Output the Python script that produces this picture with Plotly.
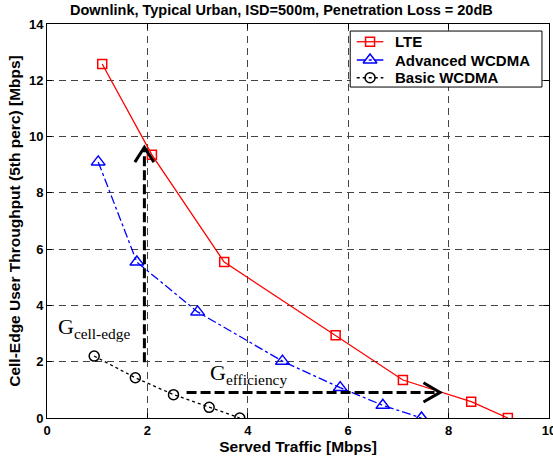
import plotly.graph_objects as go

lte_x = [1.10, 2.09, 3.53, 5.75, 7.09, 8.45, 9.18]
lte_y = [12.58, 9.35, 5.54, 2.94, 1.35, 0.58, 0.0]
adv_x = [1.02, 1.79, 3.00, 4.69, 5.84, 6.69, 7.46]
adv_y = [9.10, 5.54, 3.77, 2.02, 1.08, 0.45, 0.0]
bas_x = [0.94, 1.76, 2.52, 3.23, 3.84]
bas_y = [2.20, 1.43, 0.83, 0.38, 0.0]

series_names = ["LTE", "Advanced WCDMA", "Basic WCDMA"]
x_ticks = [0, 2, 4, 6, 8, 10]
y_ticks = [0, 2, 4, 6, 8, 10, 12, 14]

# gain arrows (annotation geometry)
v_arrow = dict(x=1.94, y0=1.98, y1=9.62)
h_arrow = dict(y=0.91, x0=2.78, x1=7.83)

# legend box geometry (axis units)
leg_box = dict(x0=6.04, x1=9.86, y0=11.76, y1=13.75)
leg_rows = [13.37, 12.72, 12.09]
leg_line = (6.17, 6.70)
leg_text_x = 6.90

sans = "Liberation Sans, Arial, Helvetica"
f_tick = dict(family=sans, size=13, color="black")
f_title = dict(family=sans, size=14.5, color="black")
f_lab = dict(family=sans, size=15.5, color="black")
f_leg = dict(family=sans, size=15, color="black")

styles = [
    dict(line=dict(color="#ff0000", width=1.3),
         marker=dict(symbol="square-open", size=9, color="#ff0000", line=dict(width=1.5))),
    dict(line=dict(color="#0000ff", width=1.3, dash="dashdot"),
         marker=dict(symbol="triangle-up-open", size=12, color="#0000ff", line=dict(width=1.5))),
    dict(line=dict(color="black", width=1.3, dash="dot"),
         marker=dict(symbol="circle-open", size=10, color="black", line=dict(width=1.5))),
]

fig = go.Figure()
for name, xs, ys, st in zip(series_names, [lte_x, adv_x, bas_x], [lte_y, adv_y, bas_y], styles):
    fig.add_trace(go.Scatter(x=xs, y=ys, name=name, mode="lines+markers", showlegend=False,
                             line=st["line"], marker=st["marker"]))

# custom legend (MATLAB style)
fig.add_shape(type="rect", xref="x", yref="y", layer="between", **leg_box,
              line=dict(color="black", width=1), fillcolor="white")
for name, ry, st in zip(series_names, leg_rows, styles):
    fig.add_trace(go.Scatter(x=[leg_line[0], leg_line[1]], y=[ry, ry], mode="lines",
                             line=st["line"], showlegend=False, hoverinfo="skip"))
    fig.add_trace(go.Scatter(x=[(leg_line[0] + leg_line[1]) / 2], y=[ry], mode="markers",
                             marker=st["marker"], showlegend=False, hoverinfo="skip"))
    fig.add_annotation(x=leg_text_x, y=ry, text=f"<b>{name}</b>", showarrow=False,
                       xanchor="left", yanchor="middle", font=f_leg)

dash_style = dict(color="black", width=3, dash="10px,4px")
fig.add_shape(type="line", x0=v_arrow["x"], x1=v_arrow["x"], y0=v_arrow["y0"], y1=v_arrow["y1"] - 0.05,
              line=dash_style, xref="x", yref="y")
fig.add_shape(type="line", x0=h_arrow["x0"], x1=h_arrow["x1"] - 0.05, y0=h_arrow["y"], y1=h_arrow["y"],
              line=dash_style, xref="x", yref="y")
vx, vy = v_arrow["x"], v_arrow["y1"]
fig.add_shape(type="path", path=f"M {vx-0.19},{vy-0.53} L {vx},{vy} L {vx+0.19},{vy-0.53}",
              line=dict(color="black", width=3), xref="x", yref="y")
hx, hy = h_arrow["x1"], h_arrow["y"]
fig.add_shape(type="path", path=f"M {hx-0.33},{hy+0.34} L {hx},{hy} L {hx-0.33},{hy-0.34}",
              line=dict(color="black", width=3), xref="x", yref="y")

serif = dict(family="Liberation Serif, Times New Roman", size=22, color="black")
fig.add_annotation(x=0.18, y=3.2, text="G<sub>cell-edge</sub>", showarrow=False,
                   xanchor="left", yanchor="middle", font=serif)
fig.add_annotation(x=3.21, y=1.55, text="G<sub>efficiency</sub>", showarrow=False,
                   xanchor="left", yanchor="middle", font=serif)

fig.add_annotation(x=(281 - 47) / 502, xref="paper", y=1.0, yref="paper",
                   text="<b>Downlink, Typical Urban, ISD=500m, Penetration Loss = 20dB</b>",
                   showarrow=False, font=f_title, yanchor="bottom", yshift=4)

axis_common = dict(showline=True, linecolor="black", linewidth=1, mirror="allticks",
                   ticks="inside", ticklen=5, tickcolor="black",
                   showgrid=True, gridcolor="#444444", gridwidth=1, griddash="7px,5px",
                   zeroline=False, tickfont=f_tick, automargin=False, ticklabeloverflow="allow")
fig.update_xaxes(range=[0, 10], tickvals=x_ticks, ticktext=[f"<b>{v}</b>" for v in x_ticks],
                 title=dict(text="<b>Served Traffic [Mbps]</b>", font=f_lab, standoff=2),
                 **axis_common)
fig.update_yaxes(range=[0, 14], tickvals=y_ticks, ticktext=[f"<b>{v}</b>" for v in y_ticks],
                 title=dict(text="<b>Cell-Edge User Throughput (5th perc) [Mbps]</b>", font=f_lab, standoff=4),
                 **axis_common)

fig.update_layout(width=553, height=461, margin=dict(l=47, r=4, t=24, b=43),
                  plot_bgcolor="white", paper_bgcolor="white", showlegend=False)
# remove the default 8px page margin so the figure fills the window exactly
fig.write_html("out.html", config={"displayModeBar": False},
               post_script="document.body.style.margin='0px';")
